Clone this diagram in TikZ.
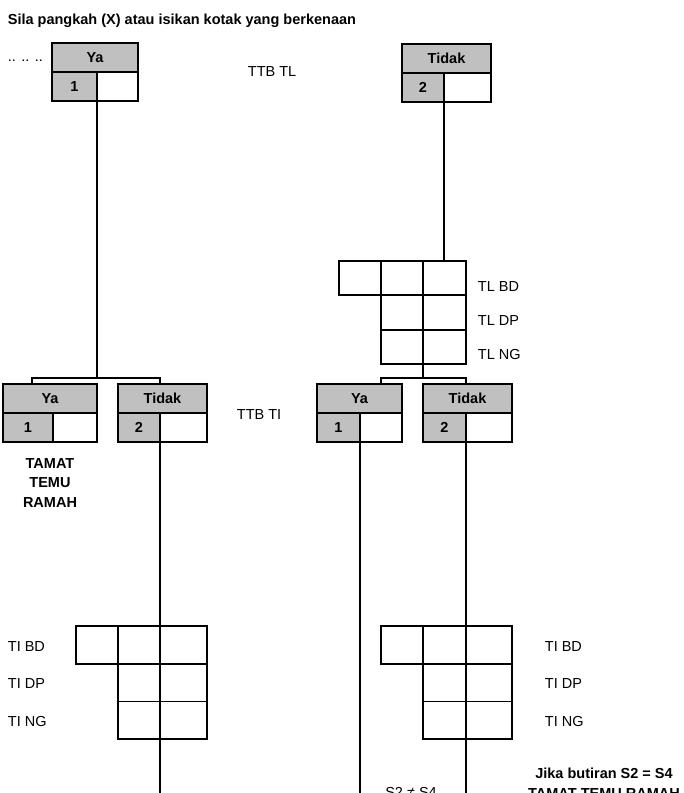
\documentclass[tikz,border=0pt]{standalone}
\usepackage{fontspec}
\setmainfont{Liberation Sans}
\usetikzlibrary{positioning,calc}
\definecolor{boxgray}{HTML}{C0C0C0}

\newcommand{\diagfont}{\fontsize{14.5bp}{19.5bp}\selectfont}

\tikzset{
hdr/.style       = {draw, fill=boxgray, anchor=north west, minimum height=29bp, inner sep=0pt, outer sep=0pt, font=\diagfont\bfseries},
codecell/.style  = {draw, fill=boxgray, anchor=north west, minimum height=29bp, inner sep=0pt, outer sep=0pt, font=\diagfont\bfseries},
blankcell/.style = {draw, fill=white, anchor=north west, minimum height=29bp, inner sep=0pt, outer sep=0pt},
gridcell/.style  = {draw, anchor=north west, inner sep=0pt, outer sep=0pt},
lbl/.style       = {anchor=base west, inner sep=0pt, font=\diagfont},
boldlbl/.style   = {inner sep=0pt, align=center, font=\diagfont\bfseries},
}

% answer box: name, x, y, code width, blank width, label, code
\newcommand{\answerbox}[7]{%
    \node [hdr, minimum width={#4bp+#5bp}]      (#1)       at (#2,#3)           {#6};
    \node [codecell, minimum width=#4bp]         (#1-code)  at (#1.south west)   {#7};
    \node [blankcell, minimum width=#5bp]        (#1-blank) at (#1-code.north east) {};
}

% code grid: name, x, y, widths of the three columns, row height
\newcommand{\codegrid}[7]{%
    \node [gridcell, minimum width=#4bp, minimum height=#7bp] (#1-a1) at (#2,#3)          {};
    \node [gridcell, minimum width=#5bp, minimum height=#7bp] (#1-b1) at (#1-a1.north east) {};
    \node [gridcell, minimum width=#6bp, minimum height=#7bp] (#1-c1) at (#1-b1.north east) {};
    \node [gridcell, minimum width=#5bp, minimum height=#7bp] (#1-b2) at (#1-b1.south west) {};
    \node [gridcell, minimum width=#6bp, minimum height=#7bp] (#1-c2) at (#1-b2.north east) {};
    \node [gridcell, minimum width=#5bp, minimum height=#7bp] (#1-b3) at (#1-b2.south west) {};
    \node [gridcell, minimum width=#6bp, minimum height=#7bp] (#1-c3) at (#1-b3.north east) {};
}

\begin{document}
\begin{tikzpicture}[x=1bp, y=-1bp, line width=1.8bp]
    \useasboundingbox (0,0) rectangle (684,793);
    \clip (0,0) rectangle (684,793);

    % Title
    \node [lbl, font=\diagfont\bfseries] (title) at (7,25) {Sila pangkah (X) atau isikan kotak yang berkenaan};

    % TTB TL
    \node [lbl] (dots)  at (7,62)   {.. .. ..};
    \node [lbl] (ttbtl) at (247,77) {TTB TL};
    \answerbox{tya}{52}{43}{45}{41}{Ya}{1}
    \answerbox{tti}{402}{44}{42}{47}{Tidak}{2}

    % TL codes
    \codegrid{tl}{339}{261}{42}{42}{43}{34.3}
    \node [lbl] (tlbd) at (477,291) {TL BD};
    \node [lbl] (tldp) at (477,325) {TL DP};
    \node [lbl] (tlng) at (477,359) {TL NG};

    % TTB TI
    \node [lbl] (ttbti) at (236,419) {TTB TI};
    \answerbox{lya}{3}{384}{50}{44}{Ya}{1}
    \answerbox{lti}{118}{384}{42}{47}{Tidak}{2}
    \answerbox{rya}{317}{384}{43}{42}{Ya}{1}
    \answerbox{rti}{423}{384}{43}{46}{Tidak}{2}
    \node [boldlbl] (tamat) at (50,483) {TAMAT\\TEMU\\RAMAH};

    % TI codes
    \codegrid{til}{76}{626}{42}{42}{47}{37.7}
    \codegrid{tir}{381}{626}{42}{43}{46}{37.7}
    \node [lbl] (tilbd) at (7,651)   {TI BD};
    \node [lbl] (tildp) at (7,688)   {TI DP};
    \node [lbl] (tilng) at (7,726)   {TI NG};
    \node [lbl] (tirbd) at (544,651) {TI BD};
    \node [lbl] (tirdp) at (544,688) {TI DP};
    \node [lbl] (tirng) at (544,726) {TI NG};

    % Notes at the foot
    \node [boldlbl, anchor=base] (jika)    at (604,778) {Jika butiran S2 = S4};
    \node [boldlbl, anchor=base] (jikaend) at (604,798) {TAMAT TEMU RAMAH};
    \node [lbl, anchor=base]     (noteq)   at (411,797) {S2 ≠  S4};

    % Connectors
    \coordinate (lsplit) at (97,378);
    \coordinate (rsplit) at (423,378);
    \coordinate (foot)   at (0,793);

    \draw (tya-code.south east) -- (lsplit);
    \draw ([xshift=29bp]lya.north west) |- (lsplit) -| (lti.north -| lti-code.east);

    \draw (tti-code.south east) -- (tti-code.south east |- tl-c1.north);
    \draw (tl-b3.south east) -- (rsplit);
    \draw ([xshift=64bp]rya.north west) |- (rsplit) -| (rti.north -| rti-code.east);

    \draw (lti-code.south east) -- (lti-code.south east |- foot);
    \draw (rya-code.south east) -- (rya-code.south east |- foot);
    \draw (rti-code.south east) -- (rti-code.south east |- foot);

\end{tikzpicture}
\end{document}
